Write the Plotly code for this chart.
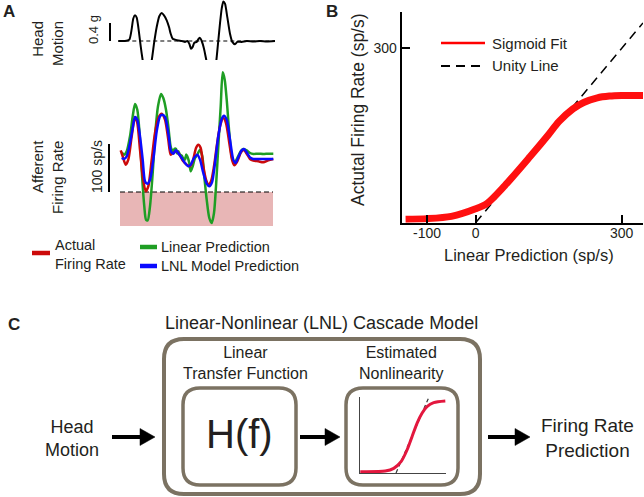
import plotly.graph_objects as go

W, H = 644, 497
FONT = "Liberation Sans, Arial, sans-serif"
TXT = "#231f20"


def px(x):
    return x / W


def py(y):
    return 1 - y / H


# ---------------- Panel A data ----------------
head_t = [0.3, 7.0, 11.3, 13.7, 15.3, 17.0, 18.7, 20.3, 22.0, 23.7, 26.0, 28.7, 31.3, 33.7, 36.0,
          38.7, 41.3, 43.7, 46.0, 48.7, 51.0, 52.7, 54.7, 57.0, 60.3, 63.7, 67.0, 69.3, 71.3, 73.0,
          74.7, 76.3, 78.7, 80.7, 82.0, 83.7, 86.0, 88.0, 90.3, 93.7, 96.0, 98.0, 100.3, 102.0,
          103.7, 105.3, 107.0, 109.3, 112.0, 114.3, 117.0, 119.3, 123.7, 128.7, 135.3, 142.0,
          148.7, 157.0]
head_g = [0.0, 0.0, 0.03, 0.27, 0.50, 0.57, 0.52, 0.31, 0.01, -0.28, -0.58, -0.69, -0.65, -0.43,
          -0.06, 0.31, 0.55, 0.62, 0.57, 0.46, 0.31, 0.16, 0.05, 0.03, 0.01, 0.0, -0.02, 0.0, -0.06,
          -0.17, -0.13, -0.04, -0.02, 0.05, 0.07, 0.0, -0.17, -0.39, -0.65, -0.79, -0.73, -0.50,
          0.01, 0.39, 0.72, 0.88, 0.83, 0.53, 0.16, -0.02, -0.07, -0.02, -0.02, 0.0, -0.01, 0.0,
          -0.01, 0.0]

actual_t = [2.7, 4.7, 7.7, 10.3, 13.7, 17.0, 19.3, 22.0, 24.7, 27.7, 30.3, 33.7, 37.0, 40.3, 43.7,
            47.0, 50.3, 52.7, 55.3, 58.7, 62.0, 65.3, 68.7, 72.0, 74.7, 78.0, 80.3, 82.7, 85.3,
            88.0, 90.3, 93.0, 96.0, 98.7, 102.0, 105.3, 108.0, 111.3, 114.0, 116.3, 119.3, 122.7,
            125.3, 128.7, 132.0, 135.3, 140.3, 145.3, 150.3, 155.3]
actual_r = [86.8, 74.3, 56.9, 67.4, 116.0, 156.3, 143.8, 88.2, 32.6, 1.4, 11.8, 67.4, 122.9, 154.2,
            163.2, 150.7, 109.0, 77.8, 81.3, 84.7, 75.7, 63.9, 56.9, 53.5, 63.9, 91.7, 98.6, 91.7,
            53.5, 25.7, 15.3, 22.2, 53.5, 95.1, 136.8, 154.2, 143.8, 102.1, 67.4, 55.6, 63.9, 81.3,
            88.2, 79.9, 68.8, 65.3, 63.9, 61.8, 66.0, 68.8]

lnl_t = [3.7, 6.0, 8.7, 12.0, 14.7, 17.0, 19.3, 22.0, 24.7, 27.0, 29.3, 32.0, 35.3, 38.7, 42.0, 44.3,
         47.0, 50.3, 53.0, 55.3, 58.0, 60.7, 63.7, 67.0, 70.3, 72.7, 76.0, 79.3, 82.0, 85.3, 88.7,
         91.3, 94.0, 97.0, 100.3, 103.7, 106.0, 108.7, 112.0, 115.3, 117.7, 120.7, 123.7, 126.0,
         128.7, 132.0, 135.3, 142.0, 148.7, 155.3]
lnl_r = [70.8, 68.8, 74.3, 102.1, 133.3, 156.3, 150.7, 116.0, 67.4, 22.2, 17.4, 25.7, 67.4, 126.4,
         157.6, 161.1, 156.3, 122.9, 84.7, 79.9, 86.8, 79.9, 70.8, 60.4, 53.5, 56.9, 70.8, 77.8,
         67.4, 39.6, 17.4, 11.8, 20.1, 60.4, 116.0, 152.1, 159.0, 150.7, 109.0, 67.4, 60.4, 74.3,
         86.8, 89.6, 82.6, 72.2, 68.8, 68.8, 68.8, 68.8]

linear_t = [3.7, 6.0, 8.7, 12.0, 14.7, 17.0, 19.3, 22.0, 24.3, 26.3, 28.0, 29.7, 32.0, 34.7, 37.3,
            40.0, 43.0, 45.3, 48.0, 50.3, 53.0, 55.3, 56.5, 58.0, 59.2, 60.3, 62.0, 63.7, 65.3, 67.0,
            68.2, 69.3, 71.3, 72.7, 74.7, 77.0, 79.3, 82.0, 84.3, 86.3, 88.7, 91.3, 93.7, 96.0, 98.0,
            100.3, 102.7, 104.7, 106.7, 108.7, 111.3, 114.0, 116.3, 119.3, 122.7, 125.3, 128.7,
            132.0, 135.3, 140.3, 145.3, 150.3, 155.3]
linear_r = [82.6, 77.8, 84.7, 116.0, 157.6, 183.3, 171.5, 109.0, 25.7, -29.9, -57.6, -59.0, -29.9,
            39.6, 122.9, 178.5, 204.2, 195.8, 171.5, 136.8, 91.7, 84.7, 90.0, 89.6, 80.0, 84.7, 78.0,
            75.7, 70.0, 67.4, 78.0, 74.3, 60.4, 43.1, 53.5, 70.8, 77.8, 88.2, 74.3, 32.6, -16.0,
            -54.2, -64.6, -43.8, 11.8, 95.1, 178.5, 249.3, 234.0, 192.4, 122.9, 70.8, 60.4, 70.8,
            84.7, 89.6, 86.8, 81.3, 79.2, 79.9, 79.2, 79.9, 79.9]

# extent of negative-rate region (sp/s) and time window of the traces
neg_floor = -70.8
win_t = [2.0, 155.0]

# ---------------- Panel B data ----------------
sig_x = [-144, -100, -50, 0, 23, 60, 112, 150, 171, 200, 222, 250, 275, 300, 344]
sig_y = [6, 7, 11, 24, 33, 64, 114, 152, 174, 196, 207, 215, 218, 219, 219]
unity = [0, 344]
b_xticks = [-100, 0, 300]
b_yticks = [300]

# ---------------- Panel C mini nonlinearity ----------------
mini_x = [0.003, 0.294, 0.392, 0.477, 0.547, 0.605, 0.663, 0.721, 0.779, 0.857, 0.992]
mini_y = [0.018, 0.027, 0.064, 0.155, 0.315, 0.497, 0.681, 0.818, 0.908, 0.963, 0.986]
mini_dash_x = [0.419, 0.802]
mini_dash_y = [0.0, 1.04]

RED_A = "#cc0a0a"
GREEN = "#1f9e24"
BLUE = "#0a0aff"
PINK = "#e8b6b6"
BOXC = "#7b7262"
RED_C = "#e3173e"

fig = go.Figure()

# Panel A head motion
fig.add_trace(go.Scatter(x=[head_t[0], head_t[-1]], y=[0, 0], mode="lines",
                         line=dict(color="black", width=1.2, dash="4px,3px"), xaxis="x", yaxis="y"))
fig.add_trace(go.Scatter(x=head_t, y=head_g, mode="lines", line=dict(color="black", width=2, shape="spline", smoothing=0.6),
                         xaxis="x", yaxis="y"))
fig.add_trace(go.Scatter(x=[-8, -8], y=[0, 0.4], mode="lines", line=dict(color="black", width=2),
                         xaxis="x", yaxis="y"))

# Panel A rates
fig.add_trace(go.Scatter(x=[win_t[0], win_t[1], win_t[1], win_t[0], win_t[0]],
                         y=[0, 0, neg_floor, neg_floor, 0], mode="lines", fill="toself",
                         fillcolor=PINK, line=dict(width=0, color=PINK), xaxis="x2", yaxis="y2"))
fig.add_trace(go.Scatter(x=win_t, y=[0, 0], mode="lines",
                         line=dict(color="black", width=1.2, dash="5px,3px"), xaxis="x2", yaxis="y2"))
fig.add_trace(go.Scatter(x=linear_t, y=linear_r, mode="lines",
                         line=dict(color=GREEN, width=2.5, shape="spline", smoothing=0.7), xaxis="x2", yaxis="y2"))
fig.add_trace(go.Scatter(x=actual_t, y=actual_r, mode="lines",
                         line=dict(color=RED_A, width=2.5, shape="spline", smoothing=0.7), xaxis="x2", yaxis="y2"))
fig.add_trace(go.Scatter(x=lnl_t, y=lnl_r, mode="lines",
                         line=dict(color=BLUE, width=2.5, shape="spline", smoothing=0.7), xaxis="x2", yaxis="y2"))
fig.add_trace(go.Scatter(x=[-9, -9], y=[0, 100], mode="lines", line=dict(color="black", width=2),
                         xaxis="x2", yaxis="y2"))

# Panel B
fig.add_trace(go.Scatter(x=unity, y=unity, mode="lines",
                         line=dict(color="black", width=1.5, dash="9px,6px"), xaxis="x3", yaxis="y3"))
fig.add_trace(go.Scatter(x=sig_x, y=sig_y, mode="lines",
                         line=dict(color="#ff1010", width=7, shape="spline", smoothing=0.8), xaxis="x3", yaxis="y3"))

# Panel C mini nonlinearity
fig.add_trace(go.Scatter(x=mini_dash_x, y=mini_dash_y, mode="lines",
                         line=dict(color="#333", width=1.2, dash="4px,3px"), xaxis="x5", yaxis="y5"))
fig.add_trace(go.Scatter(x=mini_x, y=mini_y, mode="lines",
                         line=dict(color=RED_C, width=3, shape="spline", smoothing=0.8), xaxis="x5", yaxis="y5"))

hidden = dict(visible=False, showgrid=False, zeroline=False, fixedrange=True)

layout = dict(
    width=W, height=H, margin=dict(l=0, r=0, t=0, b=0),
    paper_bgcolor="white", plot_bgcolor="white", showlegend=False,
    font=dict(family=FONT, color=TXT),
    xaxis=dict(domain=[px(100), px(280)], range=[-18, 162], anchor="y", **hidden),
    yaxis=dict(domain=[py(82), py(0)], range=[-0.911, 0.911], anchor="x", **hidden),
    xaxis2=dict(domain=[px(100), px(280)], range=[-18, 162], anchor="y2", **hidden),
    yaxis2=dict(domain=[py(230), py(60)], range=[-79.17, 275], anchor="x2", **hidden),
    xaxis3=dict(domain=[px(401.7), px(643)], range=[-152, 344], anchor="y3",
                showline=True, linecolor="black", linewidth=2, ticks="inside", ticklen=8,
                tickwidth=2, tickcolor="black", tickvals=b_xticks, ticktext=[str(v) for v in b_xticks],
                tickfont=dict(size=14, family=FONT, color=TXT), showgrid=False, zeroline=False,
                ticklabelstandoff=-4),
    yaxis3=dict(domain=[py(222.7), py(12)], range=[0, 362.8], anchor="x3",
                showline=True, linecolor="black", linewidth=2, ticks="inside", ticklen=8,
                tickwidth=2, tickcolor="black", tickvals=b_yticks, ticktext=[str(v) for v in b_yticks],
                tickfont=dict(size=14, family=FONT, color=TXT), showgrid=False, zeroline=False),
    xaxis5=dict(domain=[px(360), px(446)], range=[0, 1], anchor="y5", showline=True,
                linecolor="#444", linewidth=1, showticklabels=False, ticks="", showgrid=False,
                zeroline=False),
    yaxis5=dict(domain=[py(473), py(397)], range=[0, 1.041], anchor="x5", showline=True,
                linecolor="#444", linewidth=1, showticklabels=False, ticks="", showgrid=False,
                zeroline=False),
)


def ann(text, x, y, size, angle=0, xanchor="center", align="center", bold=False, color=TXT):
    if bold:
        text = "<b>" + text + "</b>"
    return dict(text=text, x=px(x), y=py(y), xref="paper", yref="paper", showarrow=False,
                xanchor=xanchor, yanchor="middle", align=align, textangle=angle,
                font=dict(size=size, family=FONT, color=color))


annotations = [
    ann("A", 8.5, 11, 17, bold=True),
    ann("Head<br>Motion", 47.5, 43.5, 15, angle=-90, align="right"),
    ann("0.4 g", 94, 30, 13, angle=-90),
    ann("Afferent<br>Firing Rate", 47, 177, 15, angle=-90, align="right"),
    ann("100 sp/s", 97, 167, 14, angle=-90),
    ann("Actual<br>Firing Rate", 53, 254, 14.5, xanchor="left", align="left"),
    ann("Linear Prediction", 159, 247, 14.5, xanchor="left"),
    ann("LNL Model Prediction", 159, 266, 14.5, xanchor="left"),
    ann("B", 332, 11, 17, bold=True),
    ann("Sigmoid Fit", 490, 43, 15, xanchor="left"),
    ann("Unity Line", 490, 66, 15, xanchor="left"),
    ann("Actutal Firing Rate (sp/s)", 358, 110, 17.5, angle=-90),
    ann("Linear Prediction (sp/s)", 529, 255, 16.5),
    ann("C", 13.5, 324, 17, bold=True),
    ann("Linear-Nonlinear (LNL) Cascade Model", 321, 323, 18),
    ann("Linear<br>Transfer Function", 245, 363, 16),
    ann("Estimated<br>Nonlinearity", 401, 363, 16),
    ann("H(f)", 239, 434, 40),
    ann("Head<br>Motion", 72, 438, 18),
    ann("Firing Rate<br>Prediction", 587, 438, 19),
]


def pline(x0, y0, x1, y1, color, width, dash=None):
    d = dict(type="line", xref="paper", yref="paper", x0=px(x0), y0=py(y0), x1=px(x1), y1=py(y1),
             line=dict(color=color, width=width))
    if dash:
        d["line"]["dash"] = dash
    return d


def rrect(x0, y0, x1, y1, r, color, width):
    P = lambda x, y: f"{px(x):.5f},{py(y):.5f}"
    path = (f"M{P(x0 + r, y0)} L{P(x1 - r, y0)} Q{P(x1, y0)} {P(x1, y0 + r)} "
            f"L{P(x1, y1 - r)} Q{P(x1, y1)} {P(x1 - r, y1)} L{P(x0 + r, y1)} "
            f"Q{P(x0, y1)} {P(x0, y1 - r)} L{P(x0, y0 + r)} Q{P(x0, y0)} {P(x0 + r, y0)} Z")
    return dict(type="path", xref="paper", yref="paper", path=path, line=dict(color=color, width=width))


def arrow(xs, xt, y):
    P = lambda x, yy: f"{px(x):.5f},{py(yy):.5f}"
    head = dict(type="path", xref="paper", yref="paper",
                path=f"M{P(xt - 15, y - 8.5)} L{P(xt, y)} L{P(xt - 15, y + 8.5)} Z",
                fillcolor="black", line=dict(color="black", width=0.5))
    return [pline(xs, y, xt - 12, y, "black", 4), head]


shapes = [
    # panel A legend swatches
    pline(32, 253, 50, 253, RED_A, 4.5),
    pline(140, 247, 157, 247, GREEN, 4.5),
    pline(140, 266, 157, 266, BLUE, 4.5),
    # panel B legend swatches
    pline(441, 43, 485, 43, "#ff0000", 2.5),
    pline(441, 66, 485, 66, "black", 2, dash="9px,6px"),
    # panel C boxes
    rrect(164, 339, 480, 494, 20, BOXC, 4),
    rrect(183, 388, 296, 485, 17, BOXC, 3.5),
    rrect(346, 388, 458, 485, 17, BOXC, 3.5),
]
shapes += arrow(112, 155, 437)
shapes += arrow(300, 340, 437)
shapes += arrow(488, 530, 437)

layout["annotations"] = annotations
layout["shapes"] = shapes
fig.update_layout(**layout)

fig.write_html("out.html", config={"displayModeBar": False},
               post_script="document.body.style.margin='0px';")
